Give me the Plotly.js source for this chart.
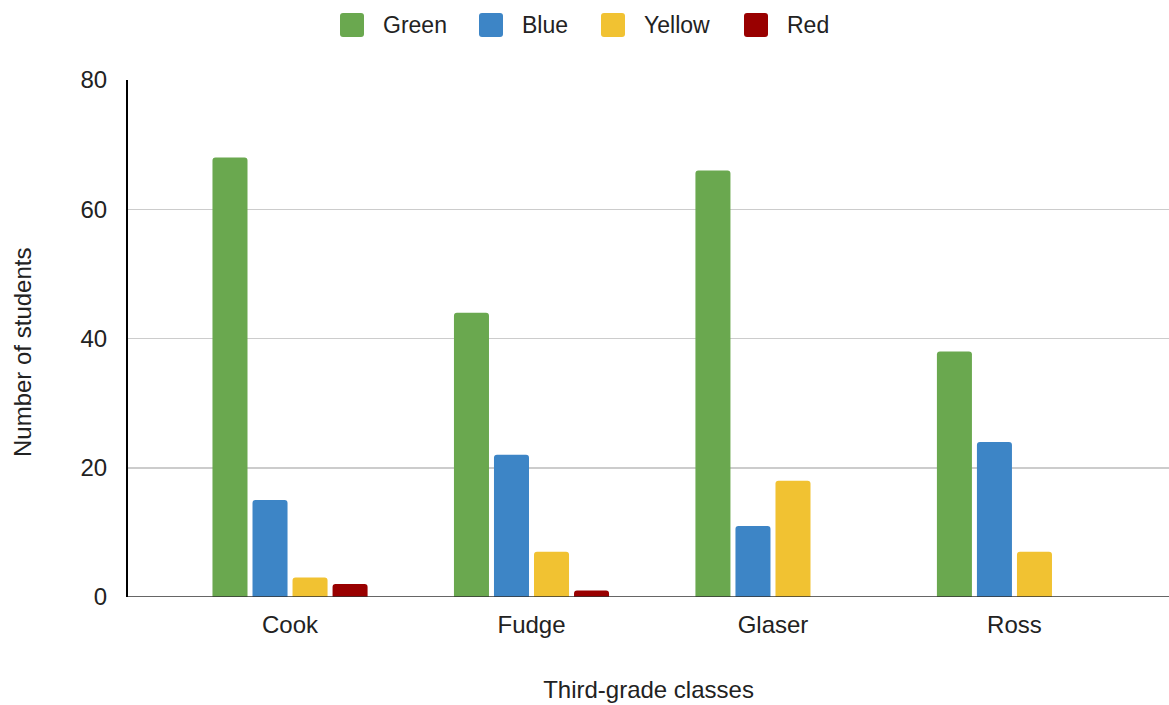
<!DOCTYPE html>
<html>
<head>
<meta charset="utf-8">
<script src="https://cdn.plot.ly/plotly-3.0.1.min.js"></script>
<style>
  html, body { margin: 0; padding: 0; background: #fff; }
  #chart { width: 1169px; height: 705px; }
</style>
</head>
<body>
<div id="chart"></div>
<script>
// Favourite colour votes per third-grade class
const classes = ["Cook", "Fudge", "Glaser", "Ross"];
const greenVotes = [68, 44, 66, 38];
const blueVotes = [15, 22, 11, 24];
const yellowVotes = [3, 7, 18, 7];
const redVotes = [2, 1, 0, 0];

const seriesNames = ["Green", "Blue", "Yellow", "Red"];
const seriesColors = ["#6aa84f", "#3d85c6", "#f1c232", "#990000"];
const seriesValues = [greenVotes, blueVotes, yellowVotes, redVotes];

const yTicks = [0, 20, 40, 60, 80];

const W = 1169, H = 705;
const M = { l: 128, r: 0, t: 80, b: 108 };
const plotW = W - M.l - M.r, plotH = H - M.t - M.b;

const font = "Liberation Sans, Arial, sans-serif";
const textColor = "#222222";
const fontSize = 24;

const traces = seriesNames.map((name, i) => ({
  type: "bar",
  name: name,
  x: classes,
  y: seriesValues[i],
  marker: { color: seriesColors[i] },
  hoverinfo: "x+y+name"
}));

// Pixel layout helpers -> paper coordinates
const px2x = px => (px - M.l) / plotW;
const py2y = py => (H - M.b - py) / plotH;

// Legend row above the plot: rounded swatches plus labels
const legendX = [340, 479, 601, 744];
const swatch = 24, radius = 3, legendCy = 25;

function roundedRect(x0, y0, x1, y1, r) {
  const X = px2x, Y = py2y;
  return "M" + X(x0 + r) + "," + Y(y0) +
    " L" + X(x1 - r) + "," + Y(y0) +
    " Q" + X(x1) + "," + Y(y0) + " " + X(x1) + "," + Y(y0 + r) +
    " L" + X(x1) + "," + Y(y1 - r) +
    " Q" + X(x1) + "," + Y(y1) + " " + X(x1 - r) + "," + Y(y1) +
    " L" + X(x0 + r) + "," + Y(y1) +
    " Q" + X(x0) + "," + Y(y1) + " " + X(x0) + "," + Y(y1 - r) +
    " L" + X(x0) + "," + Y(y0 + r) +
    " Q" + X(x0) + "," + Y(y0) + " " + X(x0 + r) + "," + Y(y0) + " Z";
}

const legendShapes = seriesNames.map((name, i) => ({
  type: "path",
  xref: "paper", yref: "paper",
  path: roundedRect(legendX[i], legendCy - swatch / 2, legendX[i] + swatch, legendCy + swatch / 2, radius),
  fillcolor: seriesColors[i],
  line: { width: 0 }
}));

const legendLabels = seriesNames.map((name, i) => ({
  xref: "paper", yref: "paper",
  x: px2x(legendX[i] + swatch + 17),
  y: py2y(legendCy),
  xanchor: "left", yanchor: "middle",
  text: name,
  showarrow: false,
  font: { family: font, size: 23, color: textColor }
}));

// Vertical axis caption
const yCaption = {
  xref: "paper", yref: "paper",
  x: px2x(22), y: py2y(353),
  xanchor: "center", yanchor: "middle",
  textangle: -90,
  text: "Number of students",
  showarrow: false,
  font: { family: font, size: fontSize, color: textColor }
};

const layout = {
  width: W,
  height: H,
  margin: M,
  paper_bgcolor: "#ffffff",
  plot_bgcolor: "#ffffff",
  barmode: "group",
  bargap: 0.337,
  bargroupgap: 0.125,
  barcornerradius: 3,
  font: { family: font, size: fontSize, color: textColor },
  showlegend: false,
  xaxis: {
    type: "category",
    range: [-0.671, 3.64],
    showgrid: false,
    showline: false,
    zeroline: false,
    ticks: "",
    ticklabelstandoff: 11,
    tickfont: { family: font, size: fontSize, color: textColor },
    title: { text: "Third-grade classes", font: { family: font, size: fontSize, color: textColor }, standoff: 44 }
  },
  yaxis: {
    range: [0, 80],
    tickvals: yTicks,
    ticktext: yTicks.map(String),
    showgrid: true,
    gridcolor: "#cccccc",
    gridwidth: 1.5,
    showline: true,
    linecolor: "#000000",
    linewidth: 2,
    zeroline: false,
    ticks: "",
    ticklabelstandoff: 14,
    tickfont: { family: font, size: fontSize, color: textColor }
  },
  shapes: [{
    type: "line",
    xref: "paper", yref: "y",
    x0: 0, x1: 1, y0: 0, y1: 0,
    line: { color: "#333333", width: 1.5 },
    layer: "above"
  }].concat(legendShapes),
  annotations: legendLabels.concat([yCaption])
};

Plotly.newPlot("chart", traces, layout, { displayModeBar: false, staticPlot: true });
</script>
</body>
</html>
